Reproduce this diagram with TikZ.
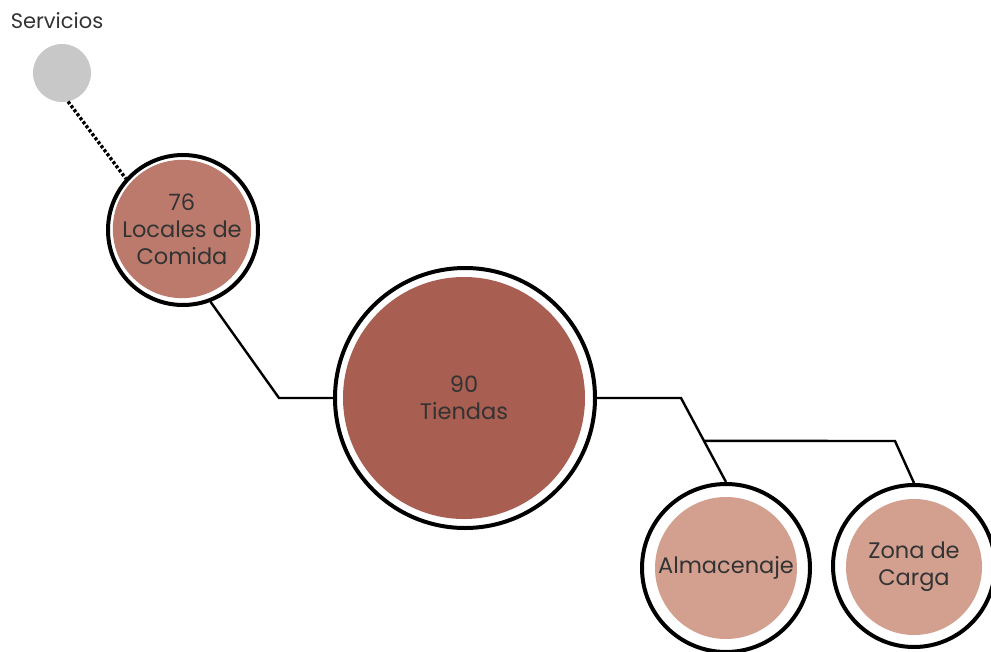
\documentclass[tikz,border=0pt]{standalone}
\usepackage{fontspec}
\setmainfont{Poppins}
\usetikzlibrary{calc}
\definecolor{txt}{HTML}{333333}
\definecolor{grayc}{HTML}{C8C8C8}
\definecolor{tiendc}{HTML}{A85E50}
\definecolor{localc}{HTML}{BC7A6C}
\definecolor{lightc}{HTML}{D3A090}
\tikzset{
  ring/.style={circle, draw=black, line width=4pt, fill=white, inner sep=0pt},
  disc/.style={circle, inner sep=0pt, text=txt, align=center,
    font=\fontsize{22.5}{27}\selectfont},
  conn/.style={draw=black, line width=2.4pt},
  dots/.style={draw=black, line width=3.4pt, dash pattern=on 3pt off 2pt},
}
\begin{document}
\begin{tikzpicture}[x=1pt,y=-1pt]
\useasboundingbox (0,0) rectangle (991,651);
% Servicios
\node[circle, fill=grayc, minimum size=58pt, inner sep=0pt] (ser) at (62,73) {};
\node[text=txt, font=\fontsize{21}{24}\selectfont] (serl) at (57,21) {Servicios};
% Locales
\node[ring, minimum size=150pt] (loc) at (183,230) {};
\node[disc, fill=localc, minimum size=122pt] (locin) at (182,229) {76\\Locales de\\Comida};
% Tiendas
\node[ring, minimum size=260pt] (tie) at (465,398) {};
\node[disc, fill=tiendc, minimum size=242pt] (tiein) at (464,398) {90\\Tiendas};
% Almacenaje
\node[ring, minimum size=168pt] (alm) at (726,568) {};
\node[disc, fill=lightc, minimum size=142pt] (almin) at (726,568) {Almacenaje};
% Zona de Carga
\node[ring, minimum size=162pt] (zon) at (914,566) {};
\node[disc, fill=lightc, minimum size=136pt] (zonin) at (914,567) {Zona de\\Carga};
% connectors
\coordinate (k0) at (279,398);
\coordinate (k1) at (681,398);
\coordinate (k3) at (895,441);
\draw[dots] (ser.-78) -- (loc.138);
\draw[conn] (loc.-69) -- (k0) -- (tie.west);
\draw[conn] (tie.east) -- (k1) -- (alm.north);
\coordinate (k2) at ($(k1)!0.51!(alm.north)$);
\draw[conn] (k2) -- (k3) -- (zon.north);
\end{tikzpicture}
\end{document}
